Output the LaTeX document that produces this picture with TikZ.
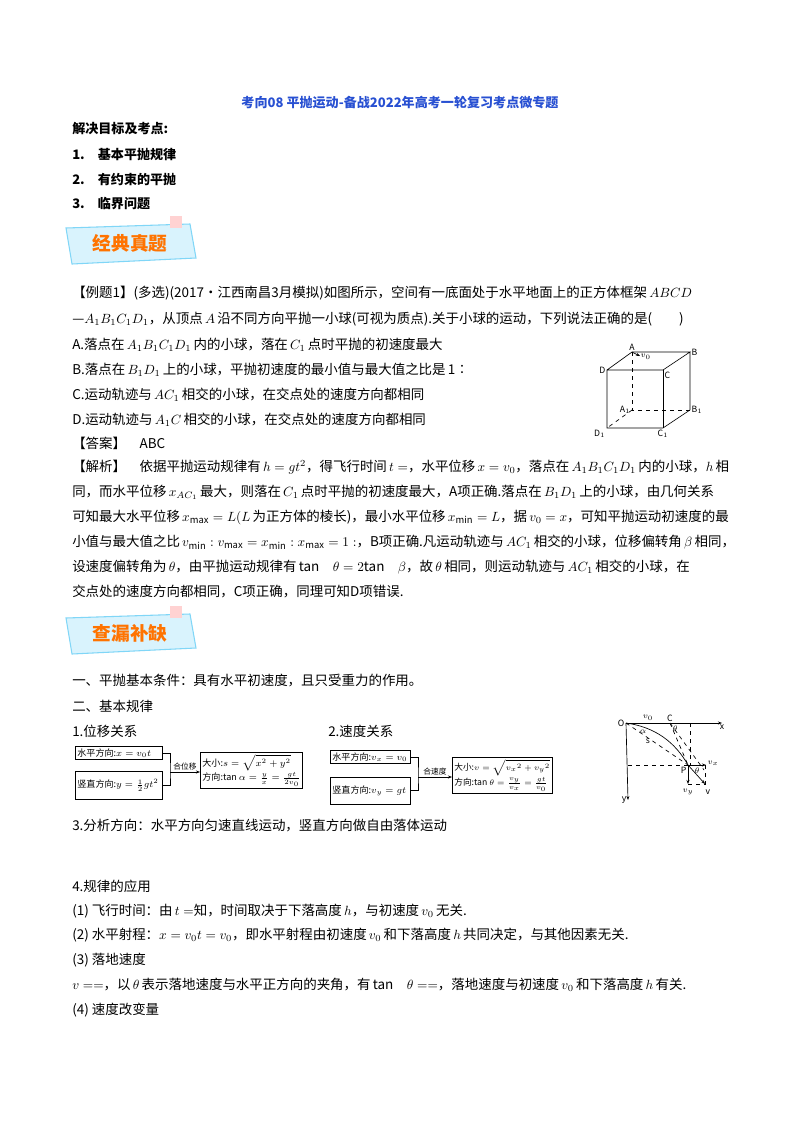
\documentclass[tikz,border=0pt]{standalone}
\usepackage{fontspec}
\setmainfont{Noto Sans CJK SC}
\usetikzlibrary{arrows.meta}
\begin{document}
\begin{tikzpicture}[x=0.75pt,y=-0.75pt,
 ln/.style={anchor=west,inner sep=0pt,font=\fontsize{10.1}{11}\selectfont},
 bx/.style={draw,line width=0.6pt,anchor=north west,inner sep=1.5pt,font=\fontsize{6.8}{8.5}\selectfont,align=left},
 jl/.style={above,inner sep=1pt,font=\fontsize{5.8}{7}\selectfont},
 ban/.style={fill=cyan!15,draw=cyan!50,line width=0.8pt},
 bt/.style={text=orange!90!red,font=\fontsize{14}{16}\selectfont\bfseries}]
\useasboundingbox (0,0) rectangle (800,1132);
\fill[white] (0,0) rectangle (800,1132);
\node[inner sep=0,text={rgb,255:red,40;green,80;blue,210},font=\fontsize{9.8}{11}\selectfont\bfseries] (title) at (400,103) {考向08\ 平抛运动-备战2022年高考一轮复习考点微专题};
\node[ln,font=\fontsize{9.8}{11}\selectfont\bfseries] (g0) at (72,129) {解决目标及考点:};
\node[ln,font=\fontsize{9.8}{11}\selectfont\bfseries] (g1) at (72,155) {1.\quad 基本平抛规律};
\node[ln,font=\fontsize{9.8}{11}\selectfont\bfseries] (g2) at (72,180) {2.\quad 有约束的平抛};
\node[ln,font=\fontsize{9.8}{11}\selectfont\bfseries] (g3) at (72,204) {3.\quad 临界问题};
% banner 1
\draw[ban] (66,228) -- (190,224) -- (196,258) -- (72,264) -- cycle;
\fill[pink!70] (170,216) rectangle (182,228);
\node[bt] (b1) at (130,243) {经典真题};
% example
\node[ln] (e1) at (72,293) {【例题1】(多选)(2017·江西南昌3月模拟)如图所示，空间有一底面处于水平地面上的正方体框架\,\(ABCD\)};
\node[ln] (e2) at (72,319) {—\(A_1B_1C_1D_1\)，从顶点\,\(A\)\,沿不同方向平抛一小球(可视为质点).关于小球的运动，下列说法正确的是(\qquad)};
\node[ln] (e3) at (72,345) {A.落点在\,\(A_1B_1C_1D_1\)\,内的小球，落在\,\(C_1\)\,点时平抛的初速度最大};
\node[ln] (e4) at (72,370) {B.落点在\,\(B_1D_1\)\,上的小球，平抛初速度的最小值与最大值之比是\,1∶};
\node[ln] (e5) at (72,395) {C.运动轨迹与\,\(AC_1\)\,相交的小球，在交点处的速度方向都相同};
\node[ln] (e6) at (72,420) {D.运动轨迹与\,\(A_1C\)\,相交的小球，在交点处的速度方向都相同};
\node[ln] (e7) at (72,443) {【答案】\quad ABC};
\node[ln] (e8) at (72,467) {【解析】\quad 依据平抛运动规律有\,\(h=gt^2\)，得飞行时间\,\(t=\)，水平位移\,\(x=v_0\)，落点在\,\(A_1B_1C_1D_1\)\,内的小球，\(h\)\,相};
\node[ln] (e9) at (72,492) {同，而水平位移\,\(x_{AC_1}\)\,最大，则落在\,\(C_1\)\,点时平抛的初速度最大，A项正确.落点在\,\(B_1D_1\)\,上的小球，由几何关系};
\node[ln] (e10) at (72,517) {可知最大水平位移\,\(x_{\max}=L(L\)\,为正方体的棱长)，最小水平位移\,\(x_{\min}=L\)，据\,\(v_0=x\)，可知平抛运动初速度的最};
\node[ln] (e11) at (72,542) {小值与最大值之比\,\(v_{\min}:v_{\max}=x_{\min}:x_{\max}=1:\)，B项正确.凡运动轨迹与\,\(AC_1\)\,相交的小球，位移偏转角\,\(\beta\)\,相同，};
\node[ln] (e12) at (72,567) {设速度偏转角为\,\(\theta\)，由平抛运动规律有\,tan\quad \(\theta=2\)tan\quad \(\beta\)，故\,\(\theta\)\,相同，则运动轨迹与\,\(AC_1\)\,相交的小球，在};
\node[ln] (e13) at (72,591) {交点处的速度方向都相同，C项正确，同理可知D项错误.};
% cube
\begin{scope}[line width=0.5pt,every node/.style={inner sep=1pt,font=\fontsize{6.5}{7}\selectfont\itshape}]
\coordinate (A) at (632,352); \coordinate (B) at (690,352);
\coordinate (D) at (607,370); \coordinate (C) at (663,370);
\coordinate (A1) at (632,410); \coordinate (B1) at (690,410);
\coordinate (D1) at (607,428); \coordinate (C1) at (663,428);
\draw (D) -- (A) -- (B) -- (C) -- (D) -- (D1) -- (C1) -- (B1) -- (B);
\draw (C) -- (C1);
\draw[dashed] (A) -- (A1) -- (B1); \draw[dashed] (A1) -- (D1);
\draw[-{Stealth[length=3pt]}] (A) -- (640,356);
\node[anchor=west] (v0c) at (639,357) {\(v_0\)};
\node[anchor=south] (la) at (A) {A}; \node[anchor=west] (lb) at (B) {B};
\node[anchor=east] (ld) at (D) {D}; \node[anchor=north west] (lc) at (C) {C};
\node[anchor=east] (la1) at (A1) {A\(_1\)}; \node[anchor=west] (lb1) at (B1) {B\(_1\)};
\node[anchor=north east] (ld1) at (D1) {D\(_1\)}; \node[anchor=north] (lc1) at (C1) {C\(_1\)};
\end{scope}
% banner 2
\draw[ban] (66,618) -- (190,614) -- (196,648) -- (72,654) -- cycle;
\fill[pink!70] (170,606) rectangle (182,618);
\node[bt] (b2) at (130,633) {查漏补缺};
\node[ln] (f1) at (72,681) {一、平抛基本条件：具有水平初速度，且只受重力的作用。};
\node[ln] (f2) at (72,706) {二、基本规律};
\node[ln] (f3) at (72,731) {1.位移关系};
\node[ln] (f4) at (328,731) {2.速度关系};
% left boxes
\node[bx,text width=62pt] (x1) at (75,746) {水平方向:\(x=v_0t\)};
\node[bx,text width=62pt,minimum height=21pt] (x2) at (75,771) {竖直方向:\(y=\frac12gt^2\)};
\coordinate (jx) at (170,772);
\draw (x1.east) -| (jx) |- (x2.east);
\node[bx] (x3) at (200,752) {大小:\(s=\sqrt{x^2+y^2}\)\\方向:tan \(\alpha=\frac{y}{x}=\frac{gt}{2v_0}\)};
\draw[-{Stealth[length=3pt]}] (jx) -- node[jl] {合位移} (x3.west|-jx);
% right boxes
\node[bx,text width=57pt] (y1) at (330,750) {水平方向:\(v_x=v_0\)};
\node[bx,text width=57pt,minimum height=20pt] (y2) at (330,777) {竖直方向:\(v_y=gt\)};
\coordinate (jy) at (418,777);
\draw (y1.east) -| (jy) |- (y2.east);
\node[bx,font=\fontsize{6.5}{8}\selectfont] (y3) at (452,757) {大小:\(v=\sqrt{v_x{}^2+v_y{}^2}\)\\方向:tan \(\theta=\frac{v_y}{v_x}=\frac{gt}{v_0}\)};
\draw[-{Stealth[length=3pt]}] (jy) -- node[jl] {合速度} (y3.west|-jy);
% velocity diagram
\begin{scope}[line width=0.5pt,every node/.style={inner sep=1pt,font=\fontsize{6.5}{7}\selectfont\itshape}]
\coordinate (O) at (626,723); \coordinate (P) at (688,765);
\coordinate (X) at (722,723); \coordinate (Y) at (628,800);
\coordinate (Cc) at (670,723);
\draw[-{Stealth[length=3pt]}] (O) -- (X); \draw[-{Stealth[length=3pt]}] (O) -- (Y);
\draw (O) .. controls (655,727) and (675,742) .. (P);
\draw[dashed] (690,723) -- (690,765); \draw[dashed] (628,765) -- (P);
\draw[dashed] (O) -- (P); \draw[dashed] (Cc) -- (P);
\draw[dashed] (Cc) -- (704,770);
\draw[-{Stealth[length=3pt]}] (P) -- (706,765);
\draw[-{Stealth[length=3pt]}] (P) -- (688,784);
\draw[-{Stealth[length=3pt]}] (P) -- (705,784);
\draw[dashed] (688,784) -- (705,784) -- (705,765);
\node[anchor=east] (lo) at (O) {O}; \node[anchor=south] (lcc) at (Cc) {C};
\node[anchor=north] (lx) at (X) {x}; \node[anchor=east] (ly) at (Y) {y};
\node[anchor=north east] (lp) at (P) {P};
\node (lv0) at (648,718) {\(v_0\)}; \node (lal) at (643,732) {\(\alpha\)};
\node (ls) at (648,741) {s}; \node (lth) at (675,729) {\(\theta\)};
\node (lth2) at (697,771) {\(\theta\)};
\node[anchor=west] (lvx) at (706,763) {\(v_x\)};
\node (lvy) at (688,792) {\(v_y\)}; \node (lv) at (708,792) {v};
\end{scope}
\node[ln] (h1) at (72,826) {3.分析方向：水平方向匀速直线运动，竖直方向做自由落体运动};
\node[ln] (h2) at (72,886) {4.规律的应用};
\node[ln] (h3) at (72,911) {(1)\ 飞行时间：由\,\(t=\)知，时间取决于下落高度\,\(h\)，与初速度\,\(v_0\)\,无关.};
\node[ln] (h4) at (72,935) {(2)\ 水平射程：\(x=v_0t=v_0\)，即水平射程由初速度\,\(v_0\)\,和下落高度\,\(h\)\,共同决定，与其他因素无关.};
\node[ln] (h5) at (72,960) {(3)\ 落地速度};
\node[ln] (h6) at (72,985) {\(v==\)，以\,\(\theta\)\,表示落地速度与水平正方向的夹角，有\,tan\quad \(\theta==\)，落地速度与初速度\,\(v_0\)\,和下落高度\,\(h\)\,有关.};
\node[ln] (h7) at (72,1010) {(4)\ 速度改变量};
\end{tikzpicture}
\end{document}
